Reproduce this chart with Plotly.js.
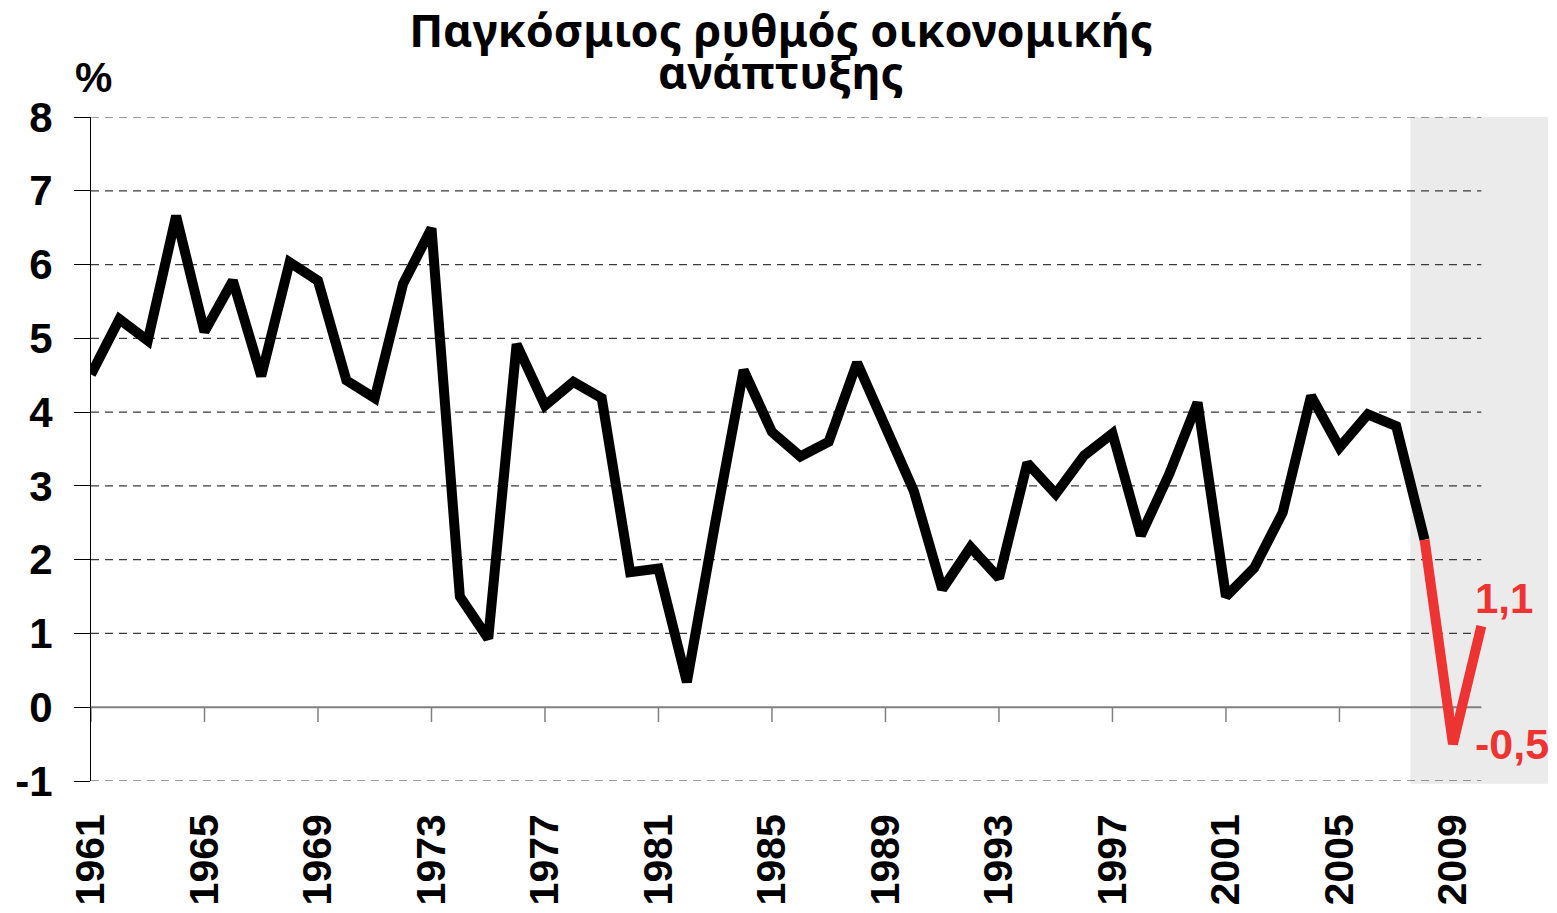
<!DOCTYPE html>
<html>
<head>
<meta charset="utf-8">
<script src="https://cdn.plot.ly/plotly-3.0.1.min.js"></script>
<style>html,body{margin:0;padding:0;background:#fff;}#chart{width:1557px;height:913px;}</style>
</head>
<body>
<div id="chart"></div>
<script>
// ---- data ----
const titleLine1 = "Παγκόσμιος ρυθμός οικονομικής";
const titleLine2 = "ανάπτυξης";
const unitLabel = "%";

const histYears = [1961,1962,1963,1964,1965,1966,1967,1968,1969,1970,
                   1971,1972,1973,1974,1975,1976,1977,1978,1979,1980,
                   1981,1982,1983,1984,1985,1986,1987,1988,1989,1990,
                   1991,1992,1993,1994,1995,1996,1997,1998,1999,2000,
                   2001,2002,2003,2004,2005,2006,2007,2008];
const histGrowth = [4.51,5.26,4.97,6.66,5.09,5.78,4.49,6.03,5.78,4.43,
                    4.19,5.74,6.49,1.50,0.93,4.92,4.09,4.41,4.19,1.83,
                    1.88,0.34,2.50,4.57,3.73,3.40,3.60,4.67,3.80,2.93,
                    1.60,2.17,1.75,3.31,2.89,3.41,3.71,2.33,3.16,4.13,
                    1.50,1.89,2.64,4.22,3.52,3.97,3.81,2.27];

const forecastYears = [2008, 2009, 2010];
const forecastGrowth = [2.27, -0.5, 1.1];

const xTickYears = [1961,1965,1969,1973,1977,1981,1985,1989,1993,1997,2001,2005,2009];
const yTickValues = [-1,0,1,2,3,4,5,6,7,8];

// ---- styling ----
const BOLD = {family: "Liberation Sans, Arial, sans-serif", weight: 700, color: "#000"};
const TITLEFONT = {family: "Noto Sans, sans-serif", weight: 700, size: 45, color: "#000"};
const RED = "#ee3333";
const xMin = histYears[0];
const xMax = forecastYears[forecastYears.length - 1];

const shapes = [];
// shaded forecast band
shapes.push({type: "rect", xref: "x", yref: "paper", x0: 2007.5, x1: 2012.35, y0: -0.004, y1: 1,
             fillcolor: "#ebebeb", line: {width: 0}, layer: "below"});
// dashed gridlines
yTickValues.forEach(v => {
  if (v === 0) return;
  shapes.push({type: "line", xref: "x", yref: "y", x0: xMin, x1: xMax, y0: v, y1: v,
               line: {color: "#3a3a3a", width: 1.2, dash: "8px,6px"}, layer: "below"});
});
// zero line
shapes.push({type: "line", xref: "x", yref: "y", x0: xMin, x1: xMax, y0: 0, y1: 0,
             line: {color: "#808080", width: 2}, layer: "below"});
// category ticks on zero line
xTickYears.forEach(yr => {
  shapes.push({type: "line", xref: "x", yref: "y", x0: yr, x1: yr, y0: 0, y1: -0.2,
               line: {color: "#808080", width: 1.5}, layer: "below"});
});

const fmt = v => String(v).replace(".", ",");

const traces = [
  {x: histYears, y: histGrowth, type: "scatter", mode: "lines",
   line: {color: "#000", width: 10}, hoverinfo: "skip", showlegend: false},
  {x: forecastYears, y: forecastGrowth, type: "scatter", mode: "lines",
   line: {color: RED, width: 10}, hoverinfo: "skip", showlegend: false}
];

const layout = {
  width: 1557, height: 913,
  margin: {l: 91, r: 9, t: 117, b: 132, pad: 0},
  paper_bgcolor: "#fff", plot_bgcolor: "rgba(0,0,0,0)",
  showlegend: false,
  title: {text: titleLine1, xref: "container", x: 0.5016, xanchor: "center",
          yref: "container", y: 0.966, yanchor: "middle", automargin: false,
          font: TITLEFONT},
  xaxis: {range: [xMin, 2012.35], tickmode: "array", tickvals: xTickYears,
          ticktext: xTickYears.map(String), tickangle: -90, ticks: "",
          showgrid: false, zeroline: false, showline: false,
          ticklabelstandoff: 24,
          tickfont: Object.assign({size: 41}, BOLD), fixedrange: true},
  yaxis: {range: [-1, 8], tickmode: "array", tickvals: yTickValues,
          ticktext: yTickValues.map(String), ticks: "outside", ticklen: 16,
          tickcolor: "#000", tickwidth: 1, showline: true, linecolor: "#000",
          linewidth: 1, showgrid: false, zeroline: false, ticklabelstandoff: 13,
          tickfont: Object.assign({size: 42}, BOLD), fixedrange: true},
  shapes: shapes,
  annotations: [
    {text: titleLine2, xref: "paper", yref: "paper", x: 0.4736, y: 1.068,
     xanchor: "center", yanchor: "middle", showarrow: false, font: TITLEFONT},
    {text: unitLabel, xref: "paper", yref: "paper", x: 0.0014, y: 1.06,
     xanchor: "center", yanchor: "middle", showarrow: false,
     font: Object.assign({size: 42}, BOLD)},
    {text: fmt(forecastGrowth[2]), xref: "x", yref: "y", x: forecastYears[2], y: forecastGrowth[2],
     xanchor: "left", yanchor: "middle", xshift: -8, yshift: 28, showarrow: false,
     font: {family: BOLD.family, weight: 700, size: 42, color: RED}},
    {text: fmt(forecastGrowth[1]), xref: "x", yref: "y", x: forecastYears[2], y: forecastGrowth[1],
     xanchor: "left", yanchor: "middle", xshift: -8, yshift: 0, showarrow: false,
     font: {family: BOLD.family, weight: 700, size: 43, color: RED}}
  ]
};

Plotly.newPlot("chart", traces, layout, {displayModeBar: false, staticPlot: true});
</script>
</body>
</html>
